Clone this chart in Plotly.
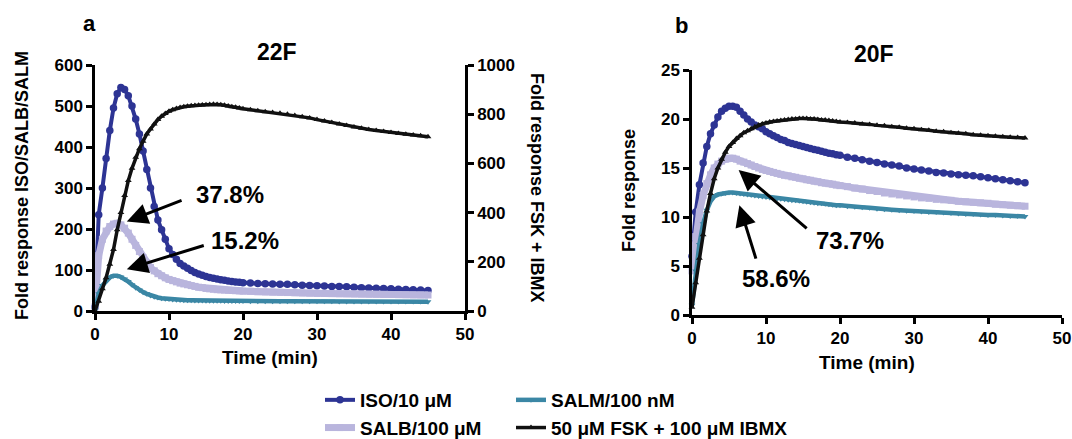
import plotly.graph_objects as go

# ---------------- data ----------------
T = [0, 0.5, 1, 1.5, 2, 2.5, 3, 3.5, 4, 4.5, 5, 5.5, 6, 6.5, 7, 7.5, 8, 8.5, 9, 9.5,
     10, 10.5, 11, 11.5, 12, 12.5, 13, 13.5, 14, 14.5, 15, 15.5, 16, 16.5, 17, 17.5,
     18, 18.5, 19, 19.5, 20, 21, 22, 23, 24, 25, 26, 27, 28, 29, 30, 31, 32, 33, 34,
     35, 36, 37, 38, 39, 40, 41, 42, 43, 44, 45]

# Panel a (22F) - left axis
ISO_a = [10, 235, 300, 372, 440, 495, 530, 545, 540, 525, 500, 468, 432, 390, 345, 300,
         255, 222, 198, 175, 152, 138, 126, 116, 110, 104, 99, 94, 90, 87, 84, 82, 80, 78,
         76, 75, 73, 72, 71, 70, 69,
         68, 67, 66.5, 66, 65.5, 65, 64, 63, 62, 61.5, 61, 60, 59.5, 59, 58, 57, 56, 55.5,
         55, 54, 53, 52.5, 52, 51, 50]
SALB_a = [10, 135, 175, 195, 206, 212, 214, 210, 202, 190, 175, 160, 145, 130, 117, 106,
          98, 91, 86, 81, 77, 74, 71, 68, 66, 64, 62, 60, 58, 57, 55, 54, 53, 52, 51.5, 51,
          50.5, 50, 49.5, 49, 48.5,
          48, 47, 46.5, 46, 45.5, 45, 44.5, 44, 43.5, 43, 42.8, 42.5, 42.2, 42, 41.7, 41.4,
          41.1, 40.8, 40.5, 40.2, 40, 39.7, 39.4, 39.2, 39]
SALM_a = [2, 42, 62, 74, 82, 86, 86, 83, 78, 72, 64, 57, 51, 46, 42, 38, 35, 33, 31, 30,
          29, 28, 27.5, 27, 26.5, 26, 26, 25.8, 25.6, 25.4, 25.2, 25, 25, 24.8, 24.7, 24.6,
          24.5, 24.4, 24.3, 24.2, 24.1,
          24, 24, 23.9, 23.9, 23.8, 23.8, 23.7, 23.7, 23.6, 23.6, 23.5, 23.5, 23.4, 23.4,
          23.3, 23.3, 23.2, 23.2, 23.1, 23.1, 23, 23, 22.9, 22.9, 22.8]
# Panel a - right axis
FSK_a = [0, 40, 90, 135, 190, 250, 330, 400, 470, 530, 580, 625, 660, 690, 720, 740, 760,
         778, 792, 803, 812, 818, 823, 827, 830, 832, 834, 835, 836, 837, 838, 839, 840,
         839, 838, 836, 833, 830, 828, 825, 822,
         818, 814, 810, 807, 804, 800, 795, 790, 785, 778, 772, 766, 760, 754, 748, 743,
         738, 734, 730, 726, 722, 718, 715, 712, 708]

# Panel b (20F)
ISO_b = [6, 10.5, 13.3, 15.5, 17.2, 18.5, 19.4, 20.2, 20.8, 21.1, 21.3, 21.3, 21.2, 20.8,
         20.4, 20.0, 19.7, 19.4, 19.2, 19.0, 18.7, 18.5, 18.3, 18.1, 17.9, 17.8, 17.6, 17.5,
         17.4, 17.3, 17.2, 17.1, 17.0, 16.9, 16.8, 16.7, 16.6, 16.5, 16.45, 16.35, 16.3,
         16.1, 16.0, 15.85, 15.7, 15.55, 15.4, 15.3, 15.2, 15.0, 14.9, 14.8, 14.7, 14.55,
         14.5, 14.4, 14.3, 14.25, 14.2, 14.1, 14.0, 13.9, 13.8, 13.7, 13.6, 13.5]
SALB_b = [4.5, 8.0, 10.5, 12.2, 13.4, 14.3, 15.0, 15.4, 15.7, 15.9, 16.0, 16.0, 15.9, 15.7,
          15.6, 15.45, 15.3, 15.15, 15.0, 14.85, 14.75, 14.65, 14.55, 14.45, 14.35, 14.25,
          14.2, 14.1, 14.05, 13.95, 13.9, 13.8, 13.75, 13.65, 13.6, 13.5, 13.45, 13.4,
          13.35, 13.25, 13.2,
          13.1, 12.95, 12.85, 12.7, 12.6, 12.45, 12.35, 12.25, 12.15, 12.05, 11.95, 11.9,
          11.8, 11.75, 11.7, 11.6, 11.55, 11.5, 11.45, 11.4, 11.3, 11.25, 11.2, 11.15, 11.1]
SALM_b = [1.0, 4.5, 7.2, 9.3, 10.7, 11.6, 12.1, 12.3, 12.4, 12.45, 12.5, 12.5, 12.45, 12.4,
          12.35, 12.3, 12.25, 12.2, 12.15, 12.1, 12.05, 12.0, 11.95, 11.9, 11.85, 11.8,
          11.75, 11.7, 11.7, 11.65, 11.6, 11.55, 11.5, 11.45, 11.4, 11.4, 11.35, 11.3,
          11.25, 11.2, 11.2,
          11.1, 11.05, 11.0, 10.95, 10.85, 10.8, 10.75, 10.7, 10.65, 10.6, 10.55, 10.5,
          10.5, 10.45, 10.4, 10.35, 10.3, 10.3, 10.25, 10.2, 10.2, 10.15, 10.1, 10.1, 10.05]
FSK_b = [0.8, 3.3, 5.8, 8.2, 10.6, 12.4, 13.9, 15.0, 15.9, 16.6, 17.2, 17.6, 18.0, 18.3,
         18.6, 18.8, 19.0, 19.2, 19.4, 19.5, 19.6, 19.7, 19.75, 19.8, 19.85, 19.9, 19.95,
         20.0, 20.0, 20.05, 20.05, 20.05, 20.0, 20.0, 19.95, 19.9, 19.9, 19.85, 19.8,
         19.75, 19.7,
         19.65, 19.6, 19.5, 19.45, 19.35, 19.3, 19.2, 19.15, 19.05, 19.0, 18.9, 18.85,
         18.75, 18.7, 18.6, 18.55, 18.5, 18.4, 18.35, 18.3, 18.25, 18.2, 18.15, 18.1, 18.05]

NAMES = ["ISO/10 \u03bcM", "SALB/100 \u03bcM", "SALM/100 nM", "50 \u03bcM FSK + 100 \u03bcM IBMX"]
X_TICKS = [0, 10, 20, 30, 40, 50]
YA_TICKS = [0, 100, 200, 300, 400, 500, 600]
YA2_TICKS = [0, 200, 400, 600, 800, 1000]
YB_TICKS = [0, 5, 10, 15, 20, 25]

# ---------------- style ----------------
W, H = 1072, 439
FONT = "Liberation Sans, Arial, Helvetica, sans-serif"
C_ISO = "#2d3494"
C_SALB = "#b9b5dd"
C_SALM = "#3b87a5"
C_FSK = "#111111"

def px_x(p):
    return p / W

def px_y(p):
    return 1 - p / H

fig = go.Figure()

def add(x, y, name, color, symbol, size, lw, xa, ya, legend, show):
    fig.add_trace(go.Scatter(
        x=x, y=y, mode="lines+markers", name=name,
        line=dict(color=color, width=lw),
        marker=dict(symbol=symbol, size=size, color=color, line=dict(width=0)),
        xaxis=xa, yaxis=ya, legend=legend, showlegend=show, cliponaxis=False))

# panel a
add(T, ISO_a, NAMES[0], C_ISO, "circle", 7.5, 4, "x", "y", "legend", True)
add(T, SALB_a, NAMES[1], C_SALB, "square", 7, 7, "x", "y", "legend", True)
add(T, SALM_a, NAMES[2], C_SALM, "triangle-down", 6, 4.5, "x", "y", "legend2", True)
add(T, FSK_a, NAMES[3], C_FSK, "triangle-up", 6, 3.5, "x", "y2", "legend2", True)
# panel b
add(T, ISO_b, NAMES[0], C_ISO, "circle", 7.5, 4, "x2", "y3", "legend", False)
add(T, SALB_b, NAMES[1], C_SALB, "square", 7, 7, "x2", "y3", "legend", False)
add(T, SALM_b, NAMES[2], C_SALM, "triangle-down", 6, 4.5, "x2", "y3", "legend2", False)
add(T, FSK_b, NAMES[3], C_FSK, "triangle-up", 6, 3.5, "x2", "y3", "legend2", False)

tickfont = dict(family=FONT, size=17, color="black", weight="bold")
axis_common = dict(showline=True, linewidth=2.5, linecolor="black", ticks="outside",
                   ticklen=6, tickwidth=2.5, tickcolor="black", showgrid=False,
                   zeroline=False, tickfont=tickfont, automargin=False)

fig.update_layout(
    width=W, height=H, margin=dict(l=0, r=0, t=0, b=0, autoexpand=False),
    paper_bgcolor="white", plot_bgcolor="white",
    font=dict(family=FONT, color="black"),
    xaxis=dict(domain=[px_x(95), px_x(465)], range=[0, 50], tickvals=X_TICKS,
               anchor="y", **axis_common),
    yaxis=dict(domain=[px_y(311), px_y(65)], range=[0, 600], tickvals=YA_TICKS,
               anchor="x", **axis_common),
    yaxis2=dict(overlaying="y", side="right", anchor="x", range=[0, 1000],
                tickvals=YA2_TICKS, **axis_common),
    xaxis2=dict(domain=[px_x(692), px_x(1062)], range=[0, 50], tickvals=X_TICKS,
                anchor="y3", **axis_common),
    yaxis3=dict(domain=[px_y(315), px_y(70)], range=[0, 25], tickvals=YB_TICKS,
                anchor="x2", **axis_common),
    legend=dict(x=px_x(320), y=px_y(381), xanchor="left", yanchor="top",
                orientation="v", font=dict(family=FONT, size=19, weight="bold"),
                bgcolor="rgba(0,0,0,0)", tracegroupgap=0),
    legend2=dict(x=px_x(511), y=px_y(381), xanchor="left", yanchor="top",
                 orientation="v", font=dict(family=FONT, size=19, weight="bold"),
                 bgcolor="rgba(0,0,0,0)", tracegroupgap=0),
)

ann = []
def text(x, y, s, size, angle=0):
    ann.append(dict(x=px_x(x), y=px_y(y), xref="paper", yref="paper", text=s,
                    showarrow=False, textangle=angle, xanchor="center", yanchor="middle",
                    font=dict(family=FONT, size=size, color="black", weight="bold")))

text(89, 23, "a", 22)
text(681, 25, "b", 22)
text(277, 52, "22F", 23)
text(874, 54, "20F", 23)
text(270, 357, "Time (min)", 19)
text(867, 362, "Time (min)", 19)
text(22, 186, "Fold response ISO/SALB/SALM", 18, -90)
text(537, 188, "Fold response FSK + IBMX", 18, 90)
text(629, 191, "Fold response", 18, -90)

def arrow(xr, yr, hx, hy, tx, ty):
    ann.append(dict(x=hx, y=hy, ax=tx, ay=ty, xref=xr, yref=yr, axref=xr, ayref=yr,
                    text="", showarrow=True, arrowhead=2, arrowsize=1.4, arrowwidth=3,
                    arrowcolor="black"))

def label(xr, yr, x, y, s):
    ann.append(dict(x=x, y=y, xref=xr, yref=yr, text=s, showarrow=False,
                    xanchor="center", yanchor="middle",
                    font=dict(family=FONT, size=24, color="black", weight="bold")))

arrow("x", "y", 4.3, 218, 11.9, 271)
arrow("x", "y", 4.3, 102, 14.9, 161)
label("x", "y", 18.2, 283, "37.8%")
label("x", "y", 20.3, 173, "15.2%")
arrow("x2", "y3", 6.3, 14.8, 15.7, 8.7)
arrow("x2", "y3", 6.4, 11.2, 8.7, 5.6)
label("x2", "y3", 21.4, 7.65, "73.7%")
label("x2", "y3", 11.3, 3.74, "58.6%")

fig.update_layout(annotations=ann)
fig.write_html(
    "out.html",
    config={"displayModeBar": False},
    post_script="document.body.style.margin='0px';document.body.style.padding='0px';",
)
